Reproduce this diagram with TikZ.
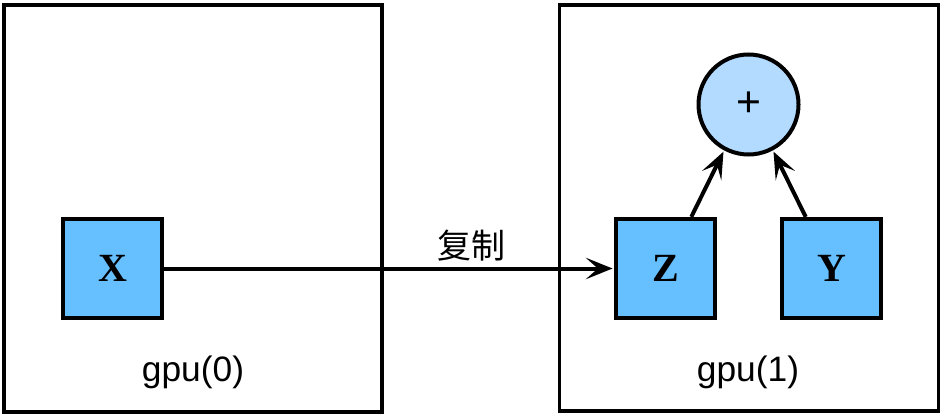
\documentclass[tikz,border=0pt]{standalone}
\usepackage{fontspec}
\setmainfont{Liberation Serif}
\setsansfont{Liberation Sans}
\newfontfamily\cjk{Noto Sans CJK SC}
\usetikzlibrary{arrows.meta,calc}
\definecolor{sqblue}{HTML}{66BFFF}
\definecolor{circblue}{HTML}{B3DAFF}
\tikzset{
  gpubox/.style={draw, line width=2.6pt, inner sep=0pt},
  tensor/.style={draw, line width=3.4pt, fill=sqblue, minimum width=74pt, minimum height=74pt, inner sep=0pt, font=\fontsize{30}{30}\selectfont\bfseries},
  opnode/.style={draw, circle, line width=3pt, fill=circblue, minimum size=75pt, inner sep=0pt, font=\sffamily\fontsize{32}{32}\selectfont},
  lbl/.style={font=\sffamily\fontsize{26.5}{26.5}\selectfont, inner sep=0pt},
  tipstyle/.tip={Stealth[length=20pt, width=16pt, inset=9pt]},
  conn/.style={line width=3pt, -tipstyle, shorten >=1pt}
}
\begin{document}
\begin{tikzpicture}[x=0.75pt, y=-0.75pt]
\useasboundingbox (0,0) rectangle (944,417);
\node[gpubox, minimum width=283.5pt, minimum height=305pt] (g0) at (193,208.5) {};
\node[gpubox, minimum width=284pt, minimum height=304.5pt] (g1) at (749,208) {};
\node[lbl] (l0) at (193,372) {gpu(0)};
\node[lbl] (l1) at (748,372) {gpu(1)};
\node[tensor] (X) at (112.5,268.5) {X};
\node[tensor] (Z) at (665.5,268.5) {Z};
\node[tensor] (Y) at (831.5,268.5) {Y};
\node[opnode] (plus) at (748.5,104.5) {+};
\draw[conn] (X) -- (Z);
\node[font=\cjk\fontsize{25.5}{25.5}\selectfont, inner sep=0pt] (cp) at (471,246) {复制};
\draw[conn] ($(Z.north)!0.5!(Z.north east)$) -- (plus.242);
\draw[conn] ($(Y.north)!0.5!(Y.north west)$) -- (plus.298);
\end{tikzpicture}
\end{document}
